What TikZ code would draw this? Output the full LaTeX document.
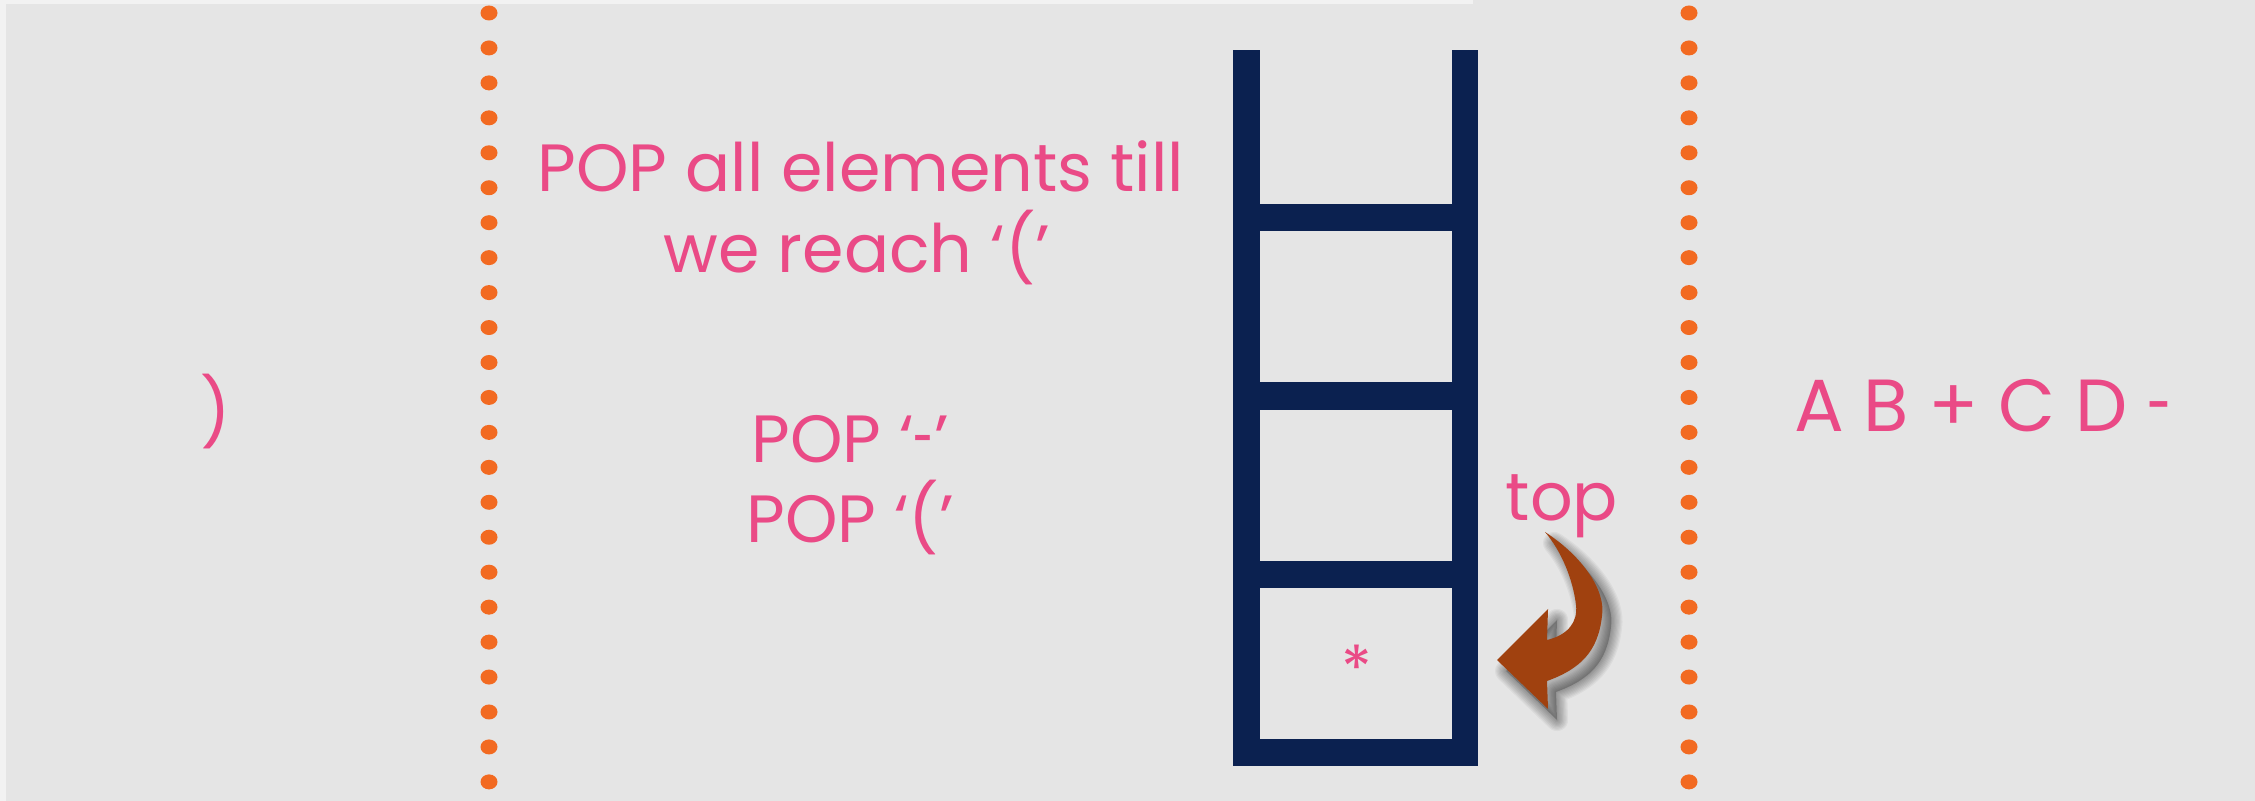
\documentclass[tikz,border=0pt]{standalone}
\usepackage{graphicx}
\usepackage{fontspec}
\setmainfont{Poppins}
\definecolor{bgc}{RGB}{229,229,229}
\definecolor{edgec}{RGB}{242,242,242}
\definecolor{pinkc}{RGB}{234,74,134}
\definecolor{dotc}{RGB}{242,106,33}
\definecolor{navyc}{RGB}{11,33,80}
\definecolor{brownc}{RGB}{160,65,15}
\newcommand\shorthy[1]{\scalebox{#1}[1]{-}}
\newcommand\myarrowpath{(1545,532) .. controls (1582,556) and (1606,590) .. (1602,616)
  .. controls (1598,652) and (1580,669) .. (1547,681)
  -- (1548,709) -- (1497,660) -- (1548,609) -- (1547,640)
  .. controls (1568,635) and (1578,622) .. (1576,605)
  .. controls (1573,580) and (1562,552) .. (1545,532) -- cycle}
\tikzset{
  txt/.style={text=pinkc, inner sep=0pt, font=\fontsize{19pt}{23pt}\selectfont},
  bigtxt/.style={text=pinkc, inner sep=0pt, font=\fontsize{21pt}{25pt}\selectfont},
  dotmark/.style={fill=dotc},
  stackbar/.style={fill=navyc},
  shadowlayer/.style={draw=black, line join=round, draw opacity=0.045},
}
\begin{document}
\begin{tikzpicture}[x=0.01cm,y=-0.01cm]
\useasboundingbox (0,0) rectangle (2255,801);
\fill[bgc] (0,0) rectangle (2255,801);
\fill[edgec] (0,0) rectangle (6,801);
\fill[edgec] (0,0) rectangle (1473,4);
% dotted separators
\foreach \i in {0,...,22}{
  \fill[dotmark] (489,13+34.95*\i) ellipse [x radius=8.5, y radius=7.5];
  \fill[dotmark] (1689,13+34.95*\i) ellipse [x radius=8.5, y radius=7.5];
}
% stack
\fill[stackbar] (1233,50) rectangle (1260,766);
\fill[stackbar] (1452,50) rectangle (1478,766);
\fill[stackbar] (1260,204) rectangle (1452,231);
\fill[stackbar] (1260,382) rectangle (1452,410);
\fill[stackbar] (1260,561) rectangle (1452,588);
\fill[stackbar] (1260,739) rectangle (1452,766);
% texts
\node[txt] (paren) at (216,412) {)};
\node[txt, anchor=base] (l1) at (861,192) {POP all elements till};
\node[txt, anchor=base] (l2) at (857,273) {we reach ‘(’};
\node[txt, anchor=base] (l3) at (850,463) {POP ‘\shorthy{0.55}’};
\node[txt, anchor=base] (l4) at (850,543) {POP ‘(’};
\node[bigtxt, anchor=base] (out) at (1983,432) {A B + C D \shorthy{0.6}};
\node[txt, anchor=base] (top) at (1562,521) {top};
\node[txt, font=\fontsize{18pt}{22pt}\selectfont] (star) at (1357,668) {*};
% arrow shadow (soft, offset down-right)
\begin{scope}[shift={(9,11)}]
  \fill[black, opacity=0.22] \myarrowpath;
  \foreach \w in {0.7,1.4,2.1,2.8,3.5,4.2,4.9,5.6,6.3}{
    \draw[shadowlayer, line width=\w pt] \myarrowpath;
  }
\end{scope}
% arrow
\fill[brownc] \myarrowpath;
\end{tikzpicture}
\end{document}
